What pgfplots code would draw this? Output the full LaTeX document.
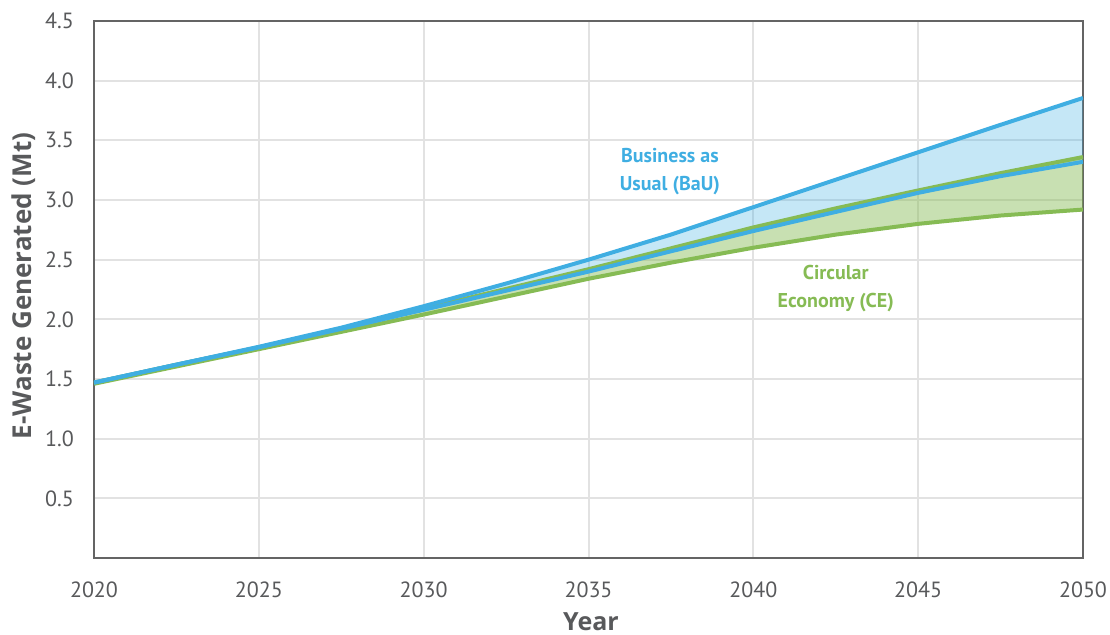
\documentclass[border=0pt]{standalone}
\usepackage{fontspec}
\setmainfont{PT Sans}
\newfontfamily\labelfont{Open Sans}
\usepackage{pgfplots}
\usepackage{pgfplotstable}
\pgfplotsset{compat=1.18}

\definecolor{bau}{RGB}{63,174,226}
\definecolor{ce}{RGB}{134,187,84}
\definecolor{txtgray}{RGB}{88,89,91}
\definecolor{framegray}{RGB}{100,100,100}
\definecolor{gridgray}{RGB}{226,226,226}

% projections
\pgfplotstableread{
year bauhi baulo cehi celo
2020   1.47  1.47  1.47  1.46
2022.5 1.62  1.62  1.62  1.605
2025   1.77  1.765 1.765 1.75
2027.5 1.93  1.92  1.925 1.895
2030   2.11  2.08  2.09  2.04
2032.5 2.30  2.24  2.255 2.19
2035   2.50  2.40  2.42  2.34
2037.5 2.71  2.57  2.595 2.475
2040   2.94  2.74  2.77  2.60
2042.5 3.17  2.90  2.93  2.71
2045   3.40  3.06  3.08  2.80
2047.5 3.63  3.20  3.225 2.87
2050   3.855 3.32  3.36  2.92
}\ewaste

% band outlines: upper edge forward, lower edge back
\pgfplotstableread{
x y
2020   1.47
2022.5 1.62
2025   1.77
2027.5 1.93
2030   2.11
2032.5 2.30
2035   2.50
2037.5 2.71
2040   2.94
2042.5 3.17
2045   3.40
2047.5 3.63
2050   3.855
2050   3.32
2047.5 3.20
2045   3.06
2042.5 2.90
2040   2.74
2037.5 2.57
2035   2.40
2032.5 2.24
2030   2.08
2027.5 1.92
2025   1.765
2022.5 1.62
2020   1.47
}\bauband

\pgfplotstableread{
x y
2020   1.47
2022.5 1.62
2025   1.765
2027.5 1.925
2030   2.09
2032.5 2.255
2035   2.42
2037.5 2.595
2040   2.77
2042.5 2.93
2045   3.08
2047.5 3.225
2050   3.36
2050   2.92
2047.5 2.87
2045   2.80
2042.5 2.71
2040   2.60
2037.5 2.475
2035   2.34
2032.5 2.19
2030   2.04
2027.5 1.895
2025   1.75
2022.5 1.605
2020   1.46
}\ceband

\begin{document}
\begin{tikzpicture}
\useasboundingbox (-47pt,-38pt) rectangle (508pt,279pt);
\begin{axis}[
  at={(0,0)}, anchor=south west,
  scale only axis,
  width=494.5pt, height=268.5pt,
  xmin=2020, xmax=2050,
  ymin=0, ymax=4.5,
  xtick={2020,2025,...,2050},
  ytick={0.5,1.0,...,4.5},
  y tick label style={/pgf/number format/fixed, /pgf/number format/fixed zerofill, /pgf/number format/precision=1, xshift=-6.5pt},
  x tick label style={/pgf/number format/1000 sep={}, yshift=-8.5pt},
  /pgf/number format/assume math mode=true,
  tick label style={font=\fontsize{11}{13}\selectfont, text=txtgray},
  major tick length=0pt,
  grid=major,
  grid style={gridgray, line width=1pt},
  axis line style={framegray, line width=1pt},
]
\addplot [fill=bau, fill opacity=0.3, draw=none] table [x=x, y=y] {\bauband} -- cycle;
\addplot [fill=ce, fill opacity=0.45, draw=none] table [x=x, y=y] {\ceband} -- cycle;

\addplot [ce, line width=2pt, line join=round] table [x=year, y=cehi] {\ewaste};
\addplot [ce, line width=2pt, line join=round] table [x=year, y=celo] {\ewaste};
\addplot [bau, line width=2pt, line join=round] table [x=year, y=bauhi] {\ewaste};
\addplot [bau, line width=2pt, line join=round] table [x=year, y=baulo] {\ewaste};

\node[text=bau, align=center, font=\bfseries\fontsize{10}{14}\selectfont] at (axis cs:2037.47,3.235) {Business as\\Usual (BaU)};
\node[text=ce, align=center, font=\bfseries\fontsize{10}{14}\selectfont] at (axis cs:2042.5,2.255) {Circular\\Economy (CE)};
\end{axis}
\node[rotate=90, inner sep=0pt, text=txtgray, font=\labelfont\bfseries\fontsize{13}{15}\selectfont] at (-35pt,136pt) {E-Waste Generated (Mt)};
\node[inner sep=0pt, text=txtgray, font=\labelfont\bfseries\fontsize{12.5}{15}\selectfont] at (248.5pt,-31.75pt) {Year};
\end{tikzpicture}
\end{document}
